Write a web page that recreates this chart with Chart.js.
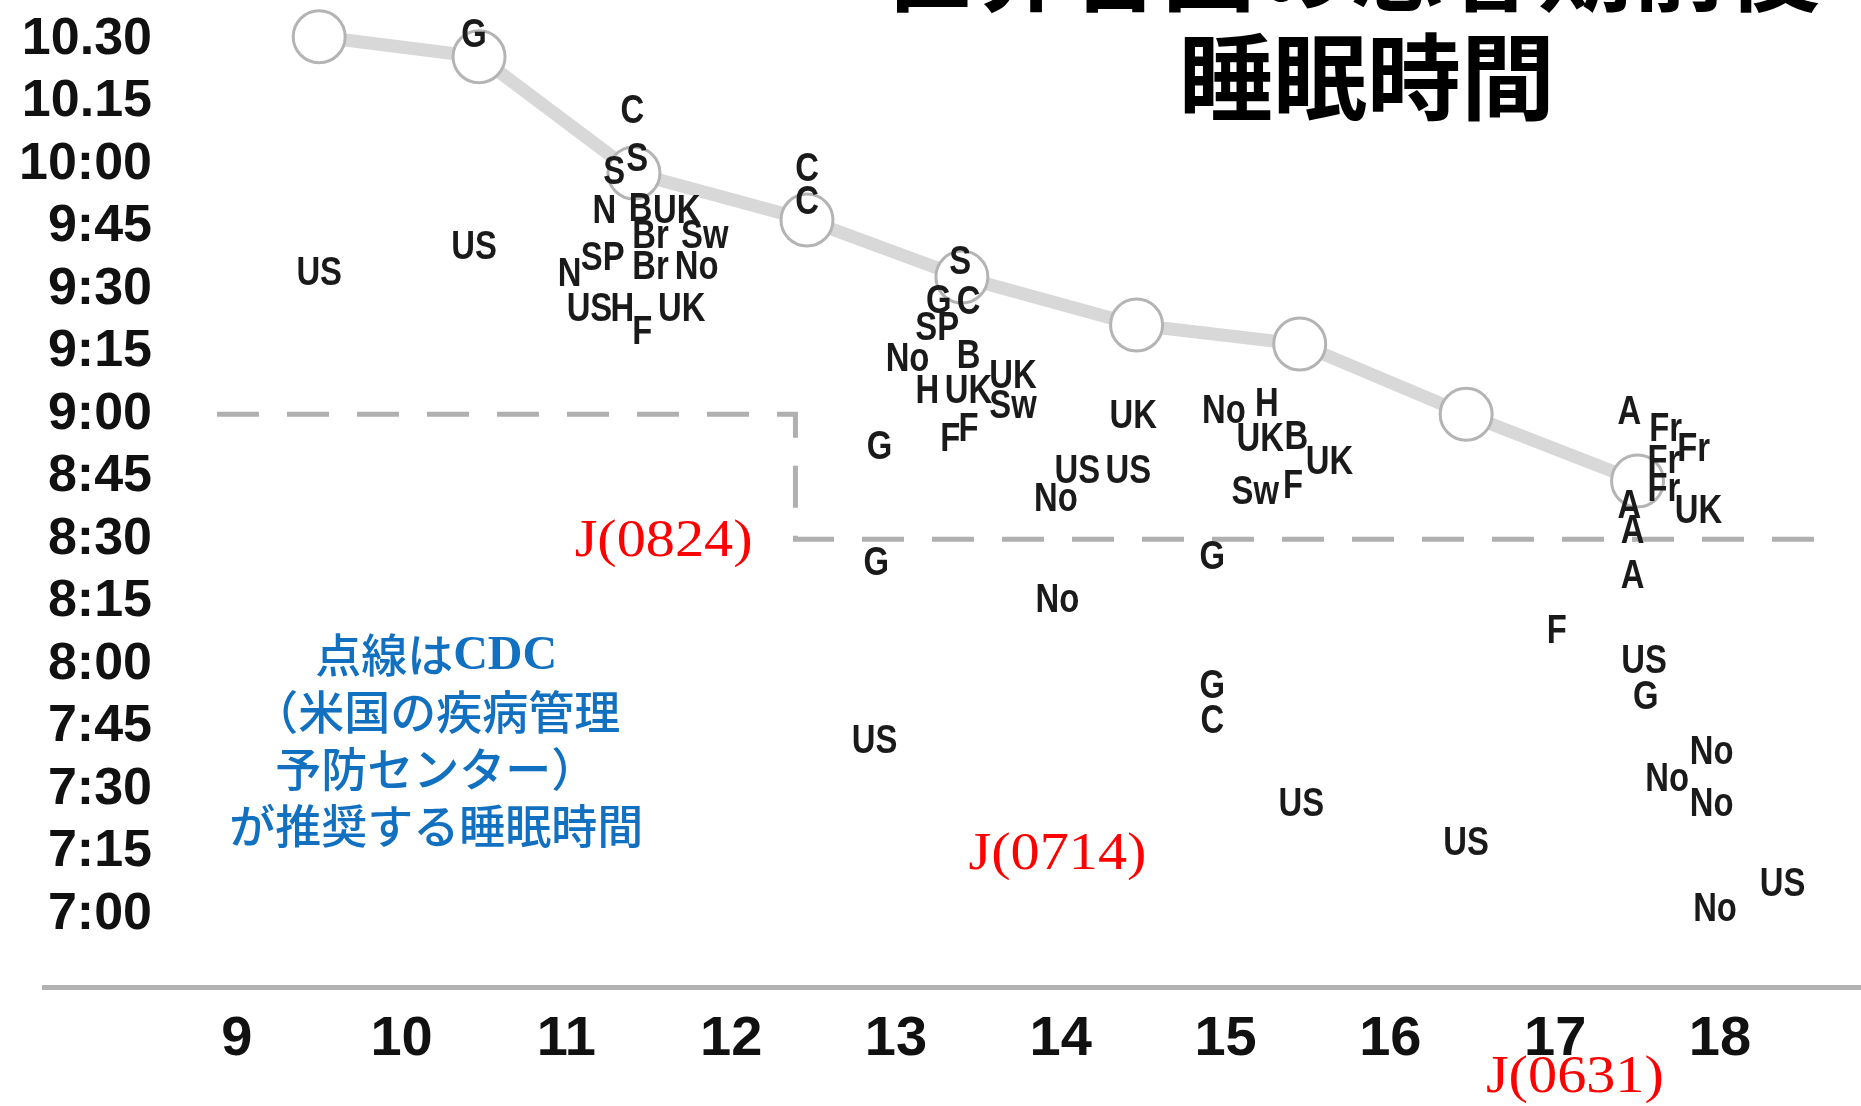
<!DOCTYPE html>
<html lang="ja">
<head>
    <meta charset="UTF-8">
    <title>世界各国の思春期前後 睡眠時間</title>
    <script src="https://cdn.jsdelivr.net/npm/chart.js"></script>
    <style>
        body { margin: 0; background: #ffffff; }
        #wrap { position: relative; width: 1861px; height: 1106px; }
    </style>
</head>
<body>
    <div id="wrap"><canvas id="sleepChart"></canvas></div>
    <script>
        // axis ticks
        const xTickValues = [9, 10, 11, 12, 13, 14, 15, 16, 17, 18];
        const yTickValues = [7, 7.25, 7.5, 7.75, 8, 8.25, 8.5, 8.75, 9, 9.25, 9.5, 9.75, 10, 10.25, 10.5];
        const yTickLabels = ['7:00', '7:15', '7:30', '7:45', '8:00', '8:15', '8:30', '8:45', '9:00', '9:15', '9:30', '9:45', '10:00', '10.15', '10.30'];

        // average line (circles)
        const avgAge = [9.5, 10.47, 11.41, 12.46, 13.40, 14.46, 15.45, 16.46, 17.50];
        const avgHours = [10.51, 10.43, 9.965, 9.777, 9.549, 9.357, 9.281, 9.0, 8.733];

        // CDC recommended (dashed)
        const cdcAge = [8.88, 12.39, 12.39, 18.61];
        const cdcHours = [9, 9, 8.5, 8.5];

        // country studies
        const countryCode = ['US', 'G', 'US',
            'C', 'S', 'S', 'N', 'B', 'UK', 'Br', 'Sw', 'N', 'SP', 'Br', 'No', 'US', 'H', 'F', 'UK',
            'C', 'C',
            'S', 'G', 'C', 'SP', 'B', 'No', 'H', 'UK', 'UK', 'Sw', 'F', 'F', 'G', 'G', 'US',
            'UK', 'US', 'US', 'No', 'No',
            'No', 'H', 'UK', 'B', 'UK', 'Sw', 'F', 'G', 'G', 'C', 'US',
            'US',
            'A', 'Fr', 'Fr', 'Fr', 'Fr', 'A', 'UK', 'A', 'A', 'F', 'US', 'G', 'No', 'No', 'No', 'US', 'No'];
        const countryAge = [9.50, 10.44, 10.44,
            11.40, 11.29, 11.43, 11.23, 11.45, 11.67, 11.51, 11.84, 11.02, 11.22, 11.51, 11.79, 11.14, 11.34, 11.46, 11.70,
            12.46, 12.46,
            13.39, 13.26, 13.44, 13.25, 13.44, 13.07, 13.19, 13.44, 13.71, 13.71, 13.33, 13.44, 12.90, 12.88, 12.87,
            14.44, 14.10, 14.41, 13.97, 13.98,
            14.99, 15.25, 15.21, 15.43, 15.63, 15.18, 15.41, 14.92, 14.92, 14.92, 15.46,
            16.46,
            17.45, 17.67, 17.84, 17.66, 17.66, 17.45, 17.87, 17.47, 17.47, 17.01, 17.54, 17.55, 17.95, 17.68, 17.95, 18.38, 17.97];
        const countryHours = [9.562, 10.514, 9.667,
            10.21, 9.965, 10.017, 9.809, 9.817, 9.809, 9.709, 9.709, 9.557, 9.62, 9.585, 9.585, 9.417, 9.417, 9.325, 9.417,
            9.977, 9.845,
            9.605, 9.449, 9.446, 9.34, 9.229, 9.217, 9.089, 9.089, 9.149, 9.029, 8.897, 8.937, 8.865, 8.40, 7.69,
            8.989, 8.769, 8.769, 8.657, 8.252,
            9.009, 9.037, 8.897, 8.905, 8.805, 8.685, 8.709, 8.425, 7.909, 7.769, 7.437,
            7.28,
            9.005, 8.937, 8.857, 8.809, 8.697, 8.629, 8.609, 8.529, 8.349, 8.129, 8.009, 7.865, 7.645, 7.537, 7.437, 7.117, 7.017];

        // Japan
        const japanLabel = ['J(0824)', 'J(0714)', 'J(0631)'];
        const japanAge = [11.59, 13.98, 17.12];
        const japanHours = [8.489, 7.237, 6.345];

        // note + title text
        const noteLines = ['点線は', '（米国の疾病管理', '予防センター）', 'が推奨する睡眠時間'];
        const noteAge = 10.21;
        const noteHours = 8.037;
        const titleLines = ['世界各国の思春期前後', '睡眠時間'];

        const toPoints = (xs, ys) => xs.map((v, i) => ({ x: v, y: ys[i] }));

        const textPlugin = {
            id: 'textMarks',
            afterDatasetsDraw(chart) {
                const { ctx, chartArea, scales: { x, y } } = chart;
                ctx.save();
                // axis line, runs a bit past the label column
                ctx.fillStyle = '#b2b2b2';
                ctx.fillRect(42, chartArea.bottom - 3, chart.width - 42, 5);

                ctx.textAlign = 'center';
                ctx.textBaseline = 'middle';

                ctx.font = 'bold 40px "Liberation Sans", sans-serif';
                ctx.fillStyle = '#1a1a1a';
                chart.getDatasetMeta(2).data.forEach((pt, i) => {
                    ctx.save();
                    ctx.translate(pt.x, pt.y);
                    ctx.scale(0.82, 1);
                    ctx.fillText(countryCode[i], 0, 0);
                    ctx.restore();
                });

                ctx.font = '52px "Liberation Serif", serif';
                ctx.fillStyle = '#ff0000';
                chart.getDatasetMeta(3).data.forEach((pt, i) => {
                    ctx.save();
                    ctx.translate(pt.x, pt.y);
                    ctx.scale(1.12, 1);
                    ctx.fillText(japanLabel[i], 0, 0);
                    ctx.restore();
                });

                // blue note; first line mixes kana with a bold serif "CDC"
                const cjkFont = '500 46px "Noto Sans CJK JP", sans-serif';
                const cdcFont = 'bold 48px "Liberation Serif", serif';
                ctx.fillStyle = '#1170c0';
                const nx = x.getPixelForValue(noteAge);
                const ny = y.getPixelForValue(noteHours);
                ctx.font = cjkFont;
                const w1 = ctx.measureText(noteLines[0]).width;
                ctx.font = cdcFont;
                const w2 = ctx.measureText('CDC').width;
                ctx.textAlign = 'left';
                ctx.font = cjkFont;
                ctx.fillText(noteLines[0], nx - (w1 + w2) / 2, ny);
                ctx.font = cdcFont;
                ctx.fillText('CDC', nx - (w1 + w2) / 2 + w1, ny + 2);
                ctx.textAlign = 'center';
                ctx.font = cjkFont;
                noteLines.slice(1).forEach((t, i) => ctx.fillText(t, nx, ny + (i + 1) * 57));

                ctx.font = 'bold 94px "Noto Sans CJK JP", sans-serif';
                ctx.fillStyle = '#000';
                ctx.fillText(titleLines[0], 1350, -32);
                ctx.fillText(titleLines[1], 1367, 77);
                ctx.restore();
            }
        };

        const ctx = document.getElementById('sleepChart').getContext('2d');
        new Chart(ctx, {
            type: 'scatter',
            data: {
                datasets: [
                    {
                        data: toPoints(cdcAge, cdcHours), showLine: true, borderColor: '#b0b0b0',
                        borderWidth: 5, borderDash: [42, 28], pointRadius: 0, order: 4
                    },
                    {
                        data: toPoints(avgAge, avgHours), showLine: true, borderColor: '#d8d8d8', borderWidth: 13,
                        pointRadius: 26, pointBackgroundColor: '#ffffff', pointBorderColor: '#b4b4b4',
                        pointBorderWidth: 3, clip: false, order: 3
                    },
                    { data: toPoints(countryAge, countryHours), pointRadius: 0, order: 2 },
                    { data: toPoints(japanAge, japanHours), pointRadius: 0, clip: false, order: 1 }
                ]
            },
            options: {
                responsive: true,
                maintainAspectRatio: false,
                animation: false,
                layout: { padding: 0, autoPadding: false },
                plugins: { legend: { display: false }, tooltip: { enabled: false } },
                scales: {
                    x: {
                        type: 'linear', min: 8.534, max: 18.856,
                        grid: { display: false, drawTicks: false }, border: { display: false },
                        afterBuildTicks: s => { s.ticks = xTickValues.map(v => ({ value: v })); },
                        afterFit: s => { s.height = 118; s.paddingLeft = 0; s.paddingRight = 0; },
                        ticks: {
                            autoSkip: false, maxRotation: 0, padding: 18, color: '#111',
                            font: { family: '"Liberation Sans", sans-serif', size: 56, weight: 'bold' },
                            callback: v => String(v)
                        }
                    },
                    y: {
                        type: 'linear', min: 6.705, max: 10.657,
                        grid: { display: false, drawTicks: false }, border: { display: false },
                        afterBuildTicks: s => { s.ticks = yTickValues.map(v => ({ value: v })); },
                        afterFit: s => { s.width = 160; s.paddingTop = 0; s.paddingBottom = 0; },
                        ticks: {
                            autoSkip: false, padding: 8, color: '#111',
                            font: { family: '"Liberation Sans", sans-serif', size: 52, weight: 'bold' },
                            callback: v => yTickLabels[yTickValues.indexOf(v)]
                        }
                    }
                }
            },
            plugins: [textPlugin]
        });
    </script>
</body>
</html>
